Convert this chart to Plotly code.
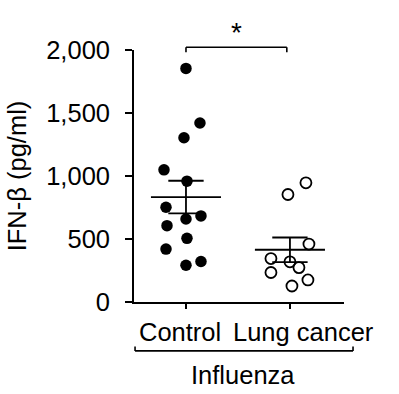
import numpy as np
import plotly.graph_objects as go

# ---- data ----
categories = ["Control", "Lung cancer"]
group_label = "Influenza"
control_values = [1854, 1421, 1304, 1049, 959, 752, 659, 683, 606, 505, 420, 292, 321]
control_jitter = [0, 14, -2, -22, 1, -20, 0, 15, -19, 1, -20, 0, 15]          # px offsets
lung_values = [946, 853, 460, 345, 319, 273, 234, 175, 127]
lung_jitter = [16, -2, 19, -19, 0, 9, -19, 18, 2]                             # px offsets
y_ticks = [0, 500, 1000, 1500, 2000]
y_title = "IFN-β (pg/ml)"
sig_label = "*"

FONT = "Liberation Sans, Arial, Helvetica, sans-serif"
FS = 25.5
PX_PER_CAT = 104.0

fig = go.Figure()

groups = [
    (0, control_values, control_jitter, True),
    (1, lung_values, lung_jitter, False),
]
shapes = []
for idx, vals, jit, filled in groups:
    vals = np.array(vals, dtype=float)
    xs = idx + np.array(jit) / PX_PER_CAT
    if filled:
        marker = dict(symbol="circle", size=11.5, color="black", line=dict(width=0))
    else:
        marker = dict(symbol="circle-open", size=11, color="black", line=dict(width=1.8))
    fig.add_trace(go.Scatter(x=xs, y=vals, mode="markers", marker=marker,
                             showlegend=False, hoverinfo="y", cliponaxis=False))
    m = vals.mean()
    sem = vals.std(ddof=1) / np.sqrt(len(vals))
    lw = dict(color="black", width=1.8)
    shapes.append(dict(type="line", xref="x", yref="y", x0=idx - 0.337, x1=idx + 0.337,
                       y0=m, y1=m, line=lw))
    shapes.append(dict(type="line", xref="x", yref="y", x0=idx, x1=idx,
                       y0=m - sem, y1=m + sem, line=lw))
    for yy in (m - sem, m + sem):
        shapes.append(dict(type="line", xref="x", yref="y", x0=idx - 0.17, x1=idx + 0.17,
                           y0=yy, y1=yy, line=lw))

# significance bracket (top)
blw = dict(color="black", width=1.6)
shapes.append(dict(type="line", xref="x", yref="paper", x0=0, x1=0.97, y0=1.011, y1=1.011, line=blw))
shapes.append(dict(type="line", xref="x", yref="paper", x0=0, x1=0, y0=1.011, y1=0.991, line=blw))
shapes.append(dict(type="line", xref="x", yref="paper", x0=0.97, x1=0.97, y0=1.011, y1=0.991, line=blw))

# group bracket (bottom)
shapes.append(dict(type="line", xref="paper", yref="paper", x0=0.005, x1=1.043, y0=-0.194, y1=-0.194, line=blw))
shapes.append(dict(type="line", xref="paper", yref="paper", x0=0.005, x1=0.005, y0=-0.194, y1=-0.177, line=blw))
shapes.append(dict(type="line", xref="paper", yref="paper", x0=1.043, x1=1.043, y0=-0.194, y1=-0.177, line=blw))

annotations = [
    dict(text=sig_label, xref="x", yref="paper", x=0.485, y=1.07, showarrow=False,
         font=dict(family=FONT, size=28, color="black"), xanchor="center", yanchor="middle"),
    dict(text=categories[0], xref="x", yref="paper", x=0, y=-0.118, xshift=-6, showarrow=False,
         font=dict(family=FONT, size=FS, color="black"), xanchor="center", yanchor="middle"),
    dict(text=categories[1], xref="x", yref="paper", x=1, y=-0.118, xshift=14, showarrow=False,
         font=dict(family=FONT, size=FS, color="black"), xanchor="center", yanchor="middle"),
    dict(text=group_label, xref="paper", yref="paper", x=0.519, y=-0.29, showarrow=False,
         font=dict(family=FONT, size=FS, color="black"), xanchor="center", yanchor="middle"),
]

fig.update_layout(
    width=399, height=394,
    margin=dict(l=134, r=55, t=50, b=92),
    paper_bgcolor="white", plot_bgcolor="white",
    font=dict(family=FONT, size=FS, color="black"),
    shapes=shapes, annotations=annotations,
    xaxis=dict(range=[-0.5, 1.52], tickvals=[0, 1], showticklabels=False,
               ticks="outside", ticklen=5, tickwidth=1.8, tickcolor="black",
               showline=True, linecolor="black", linewidth=1.8,
               showgrid=False, zeroline=False, fixedrange=True, automargin=False),
    yaxis=dict(range=[0, 2000], tickvals=y_ticks, tickformat=",",
               ticks="outside", ticklen=7, tickwidth=1.8, tickcolor="black",
               showline=True, linecolor="black", linewidth=1.8,
               showgrid=False, zeroline=False, fixedrange=True, automargin=False,
               ticklabelstandoff=10,
               title=dict(text=y_title, standoff=12, font=dict(family=FONT, size=FS))),
)

fig.write_html("out.html", config={"displayModeBar": False},
               post_script="document.body.style.margin='0px';")
